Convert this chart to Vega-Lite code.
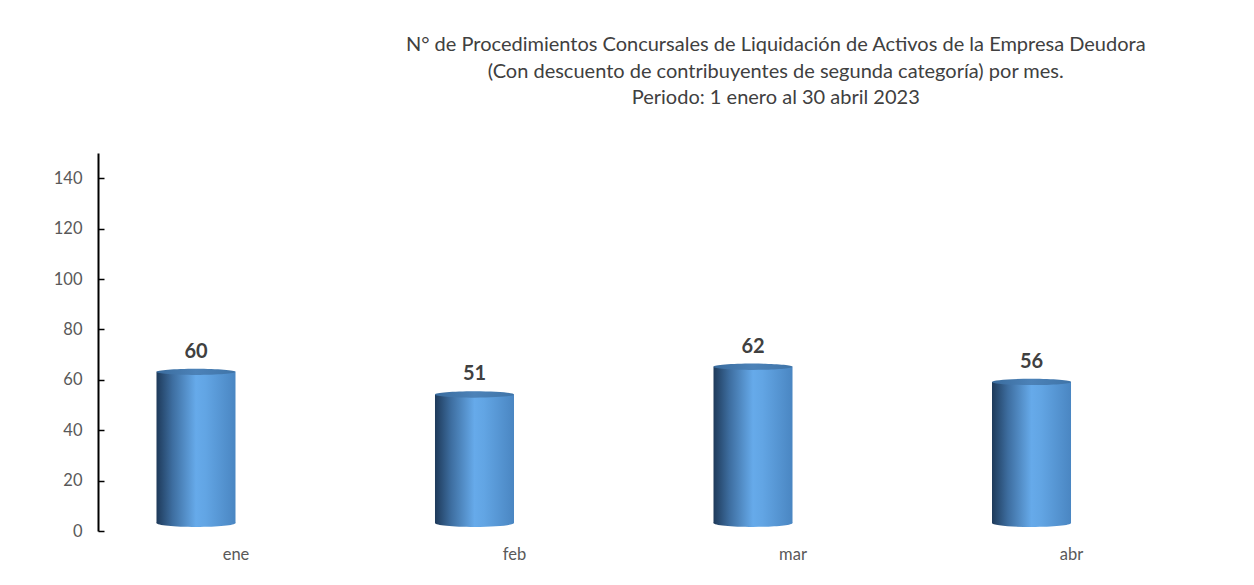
{
  "$schema": "https://vega.github.io/schema/vega-lite/v6.json",
  "autosize": "none",
  "width": 1031.5,
  "height": 378,
  "padding": {"left": 98, "top": 153, "right": 124.5, "bottom": 54},
  "background": "white",
  "config": {"view": {"stroke": null}, "font": "Lato"},
  "title": {
    "text": ["N° de Procedimientos Concursales de Liquidación de Activos de la Empresa Deudora", "(Con descuento de contribuyentes de segunda categoría) por mes.", "Periodo: 1 enero al 30 abril 2023"],
    "font": "Lato",
    "fontSize": 20,
    "fontWeight": "normal",
    "color": "#404040",
    "lineHeight": 26.5,
    "anchor": "middle",
    "dx": 162,
    "offset": 45
  },
  "data": {"values": [
    {"mes": "ene", "n": 60},
    {"mes": "feb", "n": 51},
    {"mes": "mar", "n": 62},
    {"mes": "abr", "n": 56}
  ]},
  "encoding": {
    "x": {
      "field": "mes", "type": "nominal", "sort": null,
      "scale": {"paddingInner": 0.7163, "paddingOuter": 0.21},
      "axis": {"title": null, "domain": false, "ticks": false, "labelAngle": 0, "labelOffset": 40, "labelPadding": 15, "labelFontSize": 16.5, "labelColor": "#595959", "labelFont": "Lato"}
    },
    "y": {
      "field": "n", "type": "quantitative",
      "scale": {"domain": [0, 150], "nice": false},
      "axis": {"title": null, "values": [0, 20, 40, 60, 80, 100, 120, 140], "grid": false, "domainColor": "#000000", "domainWidth": 2, "tickColor": "#000000", "tickWidth": 1.5, "tickSize": -6, "labelPadding": 22, "labelFontSize": 16.5, "labelColor": "#595959", "labelFont": "Lato"}
    }
  },
  "layer": [
    {
      "mark": {"type": "point", "filled": true, "opacity": 1, "size": 6241, "yOffset": -8,
        "shape": "M -1 0 A 1 0.1 0 1 0 1 0 A 1 0.1 0 1 0 -1 0 Z",
        "color": {"gradient": "linear", "x1": 0, "x2": 1, "y1": 0, "y2": 0, "stops": [
          {"offset": 0, "color": "#1e3a5a"}, {"offset": 0.2, "color": "#3d6d9f"}, {"offset": 0.5, "color": "#66aaea"}, {"offset": 0.62, "color": "#62a5e4"}, {"offset": 1, "color": "#4a86c2"}]}},
      "encoding": {"y": {"datum": 0}}
    },
    {
      "mark": {"type": "bar", "yOffset": -8, "y2Offset": -8,
        "color": {"gradient": "linear", "x1": 0, "x2": 1, "y1": 0, "y2": 0, "stops": [
          {"offset": 0, "color": "#1e3a5a"}, {"offset": 0.2, "color": "#3d6d9f"}, {"offset": 0.5, "color": "#66aaea"}, {"offset": 0.62, "color": "#62a5e4"}, {"offset": 1, "color": "#4a86c2"}]}}
    },
    {
      "mark": {"type": "point", "filled": true, "opacity": 1, "size": 6241, "yOffset": -8,
        "shape": "M -1 0 A 1 0.08 0 1 0 1 0 A 1 0.08 0 1 0 -1 0 Z",
        "color": {"gradient": "linear", "x1": 0, "x2": 1, "y1": 0, "y2": 0, "stops": [
          {"offset": 0, "color": "#3a6c9e"}, {"offset": 0.5, "color": "#4c82b8"}, {"offset": 1, "color": "#3f74a8"}]}}
    },
    {
      "mark": {"type": "text", "dy": -28, "baseline": "middle", "fontSize": 20, "fontWeight": "bold", "color": "#404040", "font": "Lato"},
      "encoding": {"text": {"field": "n", "type": "quantitative"}}
    }
  ]
}
